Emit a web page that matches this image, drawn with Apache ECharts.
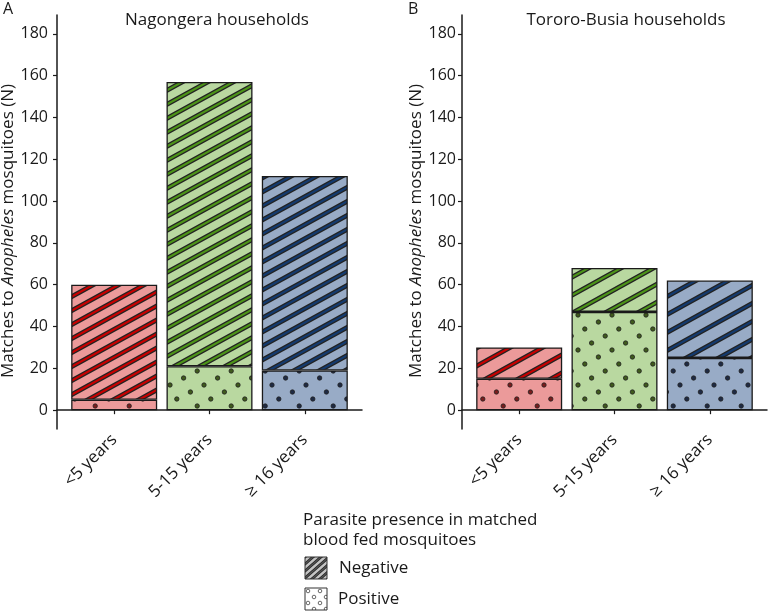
<!DOCTYPE html>
<html>
<head>
<meta charset="utf-8">
<script src="https://cdn.jsdelivr.net/npm/echarts@6/dist/echarts.min.js"></script>
<style>html,body{margin:0;padding:0;background:#fff;}#c{width:768px;height:616px;}</style>
</head>
<body>
<div id="c"></div>
<script>
// ---- data ----
const categories = ['<5 years', '5-15 years', '\u2265 16 years'];
const categoryPos = [1, 2, 3];
const nagongeraPositive = [5, 21, 19];
const nagongeraNegative = [55, 136, 93];
const tororoPositive = [15, 47, 25];
const tororoNegative = [15, 21, 37];
const yTickValues = [0, 20, 40, 60, 80, 100, 120, 140, 160, 180];
const panelTitles = ['Nagongera households', 'Tororo-Busia households'];
const panelLetters = ['A', 'B'];
const legendTitle = ['Parasite presence in matched', 'blood fed mosquitoes'];
const legendLabels = ['Negative', 'Positive'];

// ---- styles ----
const FONT = '"Open Sans", "Noto Sans", sans-serif';
const TXT = '#1a1a1a';
const FS = 17;
const fills = ['#eb9a9a', '#b9d8a0', '#98abc6'];
const stripeCores = ['#c80000', '#4c9418', '#143a6e'];
const dotColors = ['#7a1c1c', '#3f5a1c', '#1e2a44'];

function stripeTile(bg, core, d, W, n, wOuter, wCore) {
  const c = document.createElement('canvas');
  c.width = W; c.height = d;
  const ctx = c.getContext('2d');
  ctx.fillStyle = bg; ctx.fillRect(0, 0, W, d);
  const rise = n * d;
  const ext = 6;
  for (const [col, lw] of [['#222', wOuter], [core, wCore]]) {
    ctx.strokeStyle = col; ctx.lineWidth = lw;
    for (let k = -2; k <= n + 3; k++) {
      const y0 = k * d;
      ctx.beginPath();
      ctx.moveTo(-ext, y0 + rise * ext / W);
      ctx.lineTo(W + ext, y0 - rise - rise * ext / W);
      ctx.stroke();
    }
  }
  return { image: c, repeat: 'repeat' };
}
function dotTile(bg, dot, W, H, pts, r, stroke) {
  const c = document.createElement('canvas');
  c.width = W; c.height = H;
  const ctx = c.getContext('2d');
  ctx.fillStyle = bg; ctx.fillRect(0, 0, W, H);
  for (const p of pts) {
    for (const dx of [-W, 0, W]) for (const dy of [-H, 0, H]) {
      ctx.beginPath();
      ctx.arc(p[0] + dx, p[1] + dy, r, 0, Math.PI * 2);
      ctx.fillStyle = dot; ctx.fill();
      ctx.lineWidth = 0.8; ctx.strokeStyle = stroke; ctx.stroke();
    }
  }
  return { image: c, repeat: 'repeat' };
}
const dotPts = [[0, 0], [6.8, 14], [13.6, 28], [20.4, 7], [27.2, 21]];
const stripesA = fills.map((f, i) => stripeTile(f, stripeCores[i], 14, 51, 2, 4.8, 2.2));
const stripesB = fills.map((f, i) => stripeTile(f, stripeCores[i], 18, 65, 2, 4.8, 2.2));
const dotsAll = fills.map((f, i) => dotTile(f, dotColors[i], 34, 35, dotPts, 2.2, '#222'));
const legendStripe = stripeTile('#c4c4c4', '#555', 7, 8, 1, 2.8, 1.3);
const legendDots = dotTile('#ffffff', '#ffffff', 12, 12, [[3, 3], [9, 9]], 1.8, '#444');

const grids = [
  { left: 57, top: 15, width: 305, height: 414 },
  { left: 462, top: 15, width: 305, height: 414 }
];

// value first (stacked dimension), category position second
function makeData(vals, pats) {
  return vals.map((v, i) => ({ value: [v, categoryPos[i]], itemStyle: { color: pats[i] } }));
}

const xAxes = grids.map((g, i) => ({
  type: 'value', gridIndex: i, min: 0.4, max: 3.6,
  axisLine: { show: true, lineStyle: { color: TXT, width: 1.5 } },
  axisTick: { show: true, customValues: categoryPos, length: 4, lineStyle: { color: TXT, width: 1.2 } },
  axisLabel: {
    customValues: categoryPos, rotate: 45, margin: 8,
    fontSize: FS, fontFamily: FONT, color: TXT,
    formatter: v => categories[Math.round(v) - 1]
  },
  splitLine: { show: false }
}));
const yName = '{n|Matches to }{i|Anopheles}{e| mosquitoes (N)}';
const yAxes = grids.map((g, i) => ({
  type: 'value', gridIndex: i, min: -9, max: 189,
  name: yName, nameLocation: 'middle', nameGap: i === 0 ? 38 : 35.5,
  nameTextStyle: {
    rich: {
      n: { fontSize: FS, fontFamily: FONT, color: TXT },
      i: { fontSize: FS, fontFamily: FONT, color: TXT, fontStyle: 'italic' },
      e: { fontSize: FS, fontFamily: FONT, color: TXT, padding: [0, 18, 0, 0] }
    }
  },
  axisLine: { show: true, lineStyle: { color: TXT, width: 1.5 } },
  axisTick: { show: true, customValues: yTickValues, length: 4, lineStyle: { color: TXT, width: 1.2 } },
  axisLabel: { customValues: yTickValues, margin: i === 0 ? 9 : 6, fontSize: 16, fontFamily: FONT, color: TXT },
  splitLine: { show: false }
}));

const border = { borderColor: '#1a1a1a', borderWidth: 1.3 };
const enc = { x: 1, y: 0 };
const series = [
  { name: 'Positive', type: 'bar', xAxisIndex: 0, yAxisIndex: 0, stack: 'a', barWidth: 86, encode: enc,
    itemStyle: border, data: makeData(nagongeraPositive, dotsAll) },
  { name: 'Negative', type: 'bar', xAxisIndex: 0, yAxisIndex: 0, stack: 'a', barWidth: 86, encode: enc,
    itemStyle: border, data: makeData(nagongeraNegative, stripesA) },
  { name: 'Positive', type: 'bar', xAxisIndex: 1, yAxisIndex: 1, stack: 'b', barWidth: 86, encode: enc,
    itemStyle: border, data: makeData(tororoPositive, dotsAll) },
  { name: 'Negative', type: 'bar', xAxisIndex: 1, yAxisIndex: 1, stack: 'b', barWidth: 86, encode: enc,
    itemStyle: border, data: makeData(tororoNegative, stripesB) }
];
series.forEach(s => { s.animation = false; s.emphasis = { disabled: true }; });

function txt(x, y, text, size, align, extra) {
  return { type: 'text', x, y, silent: true,
    style: Object.assign({ text, fontSize: size, fontFamily: FONT, fill: TXT,
      align: align || 'left', verticalAlign: 'middle' }, extra || {}) };
}
const graphic = [
  txt(3, 9, panelLetters[0], 16, 'left'),
  txt(408, 9, panelLetters[1], 16, 'left'),
  txt(217, 20, panelTitles[0], FS, 'center'),
  txt(626, 20, panelTitles[1], FS, 'center'),
  txt(303, 520, legendTitle[0], FS, 'left'),
  txt(303, 540, legendTitle[1], FS, 'left'),
  { type: 'rect', x: 305, y: 557, shape: { x: 0, y: 0, width: 22, height: 22 },
    style: { fill: legendStripe, stroke: '#333', lineWidth: 1 }, silent: true },
  { type: 'rect', x: 305, y: 588, shape: { x: 0, y: 0, width: 22, height: 22 },
    style: { fill: legendDots, stroke: '#333', lineWidth: 1 }, silent: true },
  txt(339, 568, legendLabels[0], FS, 'left'),
  txt(338, 599, legendLabels[1], FS, 'left')
];

const chart = echarts.init(document.getElementById('c'), null, { renderer: 'canvas' });
chart.setOption({
  animation: false,
  backgroundColor: '#ffffff',
  grid: grids.map(g => Object.assign({ outerBoundsMode: 'none' }, g)),
  xAxis: xAxes,
  yAxis: yAxes,
  series,
  graphic
});
</script>
</body>
</html>
